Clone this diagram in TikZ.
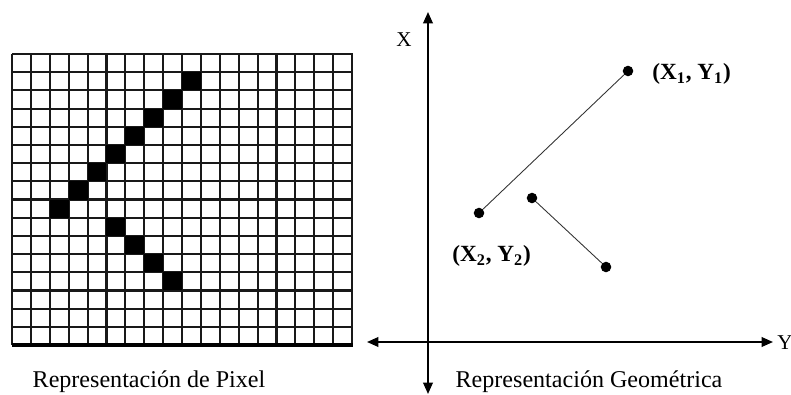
\documentclass[tikz,border=0pt]{standalone}
\usepackage{fontspec}
\setmainfont{Liberation Serif}
\usepackage{tikz}
\usetikzlibrary{arrows.meta}

\begin{document}
\begin{tikzpicture}[x=0.02cm,y=-0.02cm,>={Triangle[length=6.5pt,width=5.5pt]},
  gridline/.style={line width=1.2pt,black!90},
  pix/.style={fill=black},
  axis/.style={line width=1pt,<->},
  dot/.style={circle,fill=black,inner sep=0pt,minimum size=6pt},
  seg/.style={line width=0.5pt,black!80},
  ptlabel/.style={font=\bfseries\fontsize{13.2}{15}\selectfont,inner sep=0pt},
  caption/.style={font=\fontsize{13.7}{15}\selectfont,inner sep=0pt}]
\useasboundingbox (0,0) rectangle (791,395);
% pixel grid, 18 columns by 16 rows
\foreach \i in {0,...,18}
  \draw[gridline] ({12+\i*18.89},54) -- ({12+\i*18.89},345);
\foreach \j in {0,...,16}
  \draw[gridline] (12,{54+\j*18.19}) -- (353,{54+\j*18.19});
\draw[line width=1.8pt] (12,345) -- (353,345);
% black pixels of the two lines
\foreach \c/\r in {2/8,3/7,4/6,5/5,6/4,7/3,8/2,9/1,5/9,6/10,7/11,8/12}
  \fill[pix] ({12+\c*18.89},{54+\r*18.19}) rectangle ({12+(\c+1)*18.89},{54+(\r+1)*18.19});
\node[caption] (cappix) at (149,382) {Representación de Pixel};
% axes
\coordinate (xtop) at (428,12);
\coordinate (xbot) at (428,394);
\coordinate (yleft) at (367,342);
\coordinate (yright) at (773,342);
\draw[axis] (xbot) -- (xtop);
\draw[axis] (yleft) -- (yright);
\node[caption,font=\large] (xlab) at (404,40) {X};
\node[caption,font=\large,anchor=west] (ylab) at (777,343) {Y};
% geometric segments
\node[dot] (p1) at (628,71)  {};
\node[dot] (p2) at (479,213) {};
\node[dot] (p3) at (532,198) {};
\node[dot] (p4) at (606,267) {};
\draw[seg] (p2) -- (p1);
\draw[seg] (p3) -- (p4);
\node[ptlabel,anchor=west] (l1) at (652,74)  {(X\textsubscript{1}, Y\textsubscript{1})};
\node[ptlabel,anchor=west] (l2) at (452,256) {(X\textsubscript{2}, Y\textsubscript{2})};
\node[caption] (capgeo) at (589,382) {Representación Geométrica};
\end{tikzpicture}
\end{document}
